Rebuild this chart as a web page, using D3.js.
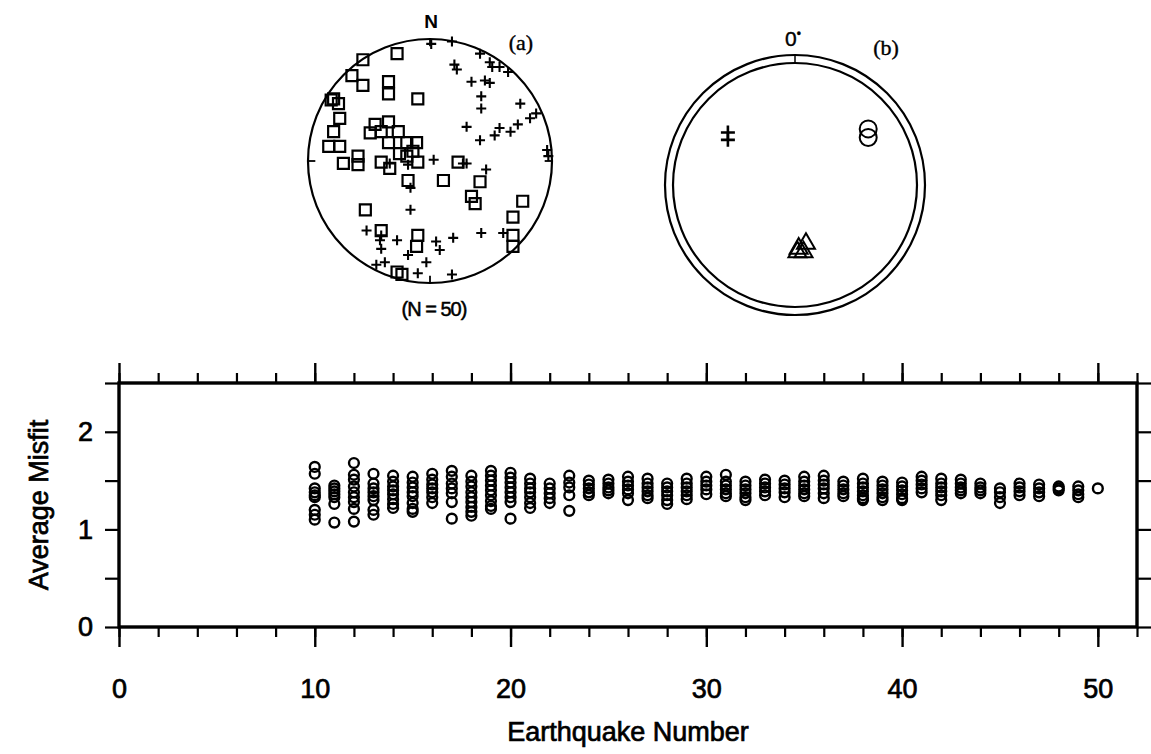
<!DOCTYPE html>
<html><head><meta charset="utf-8">
<script src="https://cdn.jsdelivr.net/npm/d3@7"></script>
<style>body{margin:0;background:#fff}svg{display:block}</style>
</head><body><svg id="c" width="1151" height="754"></svg>
<script>
// ---------- DATA ----------
const eqNumbers = d3.range(10, 51);
const misfit = [
  [1.64,1.57,1.42,1.38,1.35,1.33,1.20,1.15,1.10],
  [1.45,1.42,1.39,1.36,1.33,1.26,1.07],
  [1.68,1.56,1.51,1.44,1.38,1.33,1.28,1.21,1.08],
  [1.57,1.47,1.42,1.38,1.34,1.30,1.20,1.15],
  [1.55,1.49,1.44,1.40,1.36,1.31,1.26,1.22],
  [1.54,1.48,1.43,1.38,1.34,1.27,1.21,1.18],
  [1.57,1.51,1.46,1.42,1.38,1.33,1.27],
  [1.60,1.54,1.47,1.42,1.37,1.28,1.11],
  [1.55,1.49,1.44,1.38,1.33,1.28,1.23,1.18,1.14],
  [1.60,1.55,1.50,1.45,1.40,1.35,1.29,1.24,1.21],
  [1.58,1.53,1.48,1.43,1.38,1.33,1.28,1.11],
  [1.52,1.47,1.42,1.38,1.33,1.27,1.22],
  [1.47,1.42,1.37,1.32,1.27],
  [1.55,1.48,1.43,1.35,1.19],
  [1.50,1.46,1.42,1.38,1.35],
  [1.51,1.47,1.43,1.40,1.37],
  [1.54,1.49,1.45,1.41,1.37,1.30],
  [1.52,1.47,1.43,1.39,1.35,1.32],
  [1.47,1.43,1.39,1.35,1.30,1.26],
  [1.52,1.47,1.43,1.39,1.35,1.31],
  [1.54,1.49,1.45,1.41,1.36],
  [1.56,1.49,1.45,1.41,1.37,1.34],
  [1.49,1.45,1.41,1.37,1.33,1.30],
  [1.51,1.47,1.43,1.39,1.35],
  [1.50,1.46,1.42,1.38,1.33],
  [1.54,1.49,1.45,1.41,1.37,1.34],
  [1.55,1.50,1.46,1.42,1.37,1.32],
  [1.49,1.45,1.41,1.37,1.34],
  [1.52,1.47,1.43,1.39,1.35,1.32,1.30],
  [1.49,1.45,1.41,1.37,1.33,1.30],
  [1.48,1.44,1.40,1.36,1.32,1.30],
  [1.54,1.50,1.46,1.42,1.38],
  [1.52,1.47,1.43,1.39,1.35,1.30],
  [1.51,1.47,1.43,1.40,1.37],
  [1.47,1.43,1.40,1.37],
  [1.42,1.38,1.33,1.27],
  [1.47,1.43,1.39,1.35],
  [1.46,1.42,1.38,1.34],
  [1.44,1.42,1.40],
  [1.44,1.40,1.36,1.33],
  [1.42]
];
const xMajorTicks = [0, 10, 20, 30, 40, 50];
const xMinorTicks = d3.range(0, 53, 2);
const yTicks = [0, 0.5, 1, 1.5, 2, 2.5];
const yLabelTicks = [0, 1, 2];
const xTitle = "Earthquake Number";
const yTitle = "Average Misfit";

// Panel (a): projected positions (east, north) on unit net
const squaresA = [
  [-0.27,0.88],[-0.55,0.83],[-0.64,0.70],[-0.55,0.62],[-0.34,0.65],[-0.34,0.55],
  [-0.10,0.51],[-0.81,0.50],[-0.75,0.47],[-0.79,0.51],[-0.74,0.35],[-0.79,0.24],
  [-0.83,0.12],[-0.74,0.12],[-0.45,0.30],[-0.34,0.32],[-0.49,0.23],[-0.40,0.24],
  [-0.26,0.24],[-0.34,0.15],[-0.19,0.15],[-0.11,0.15],[-0.71,-0.02],[-0.59,0.04],
  [-0.59,-0.03],[-0.40,-0.01],[-0.33,-0.06],[-0.19,0.04],[-0.10,-0.01],[-0.25,0.06],
  [-0.14,0.08],[-0.18,-0.16],[0.11,-0.16],[0.23,-0.01],[0.41,-0.17],[0.34,-0.29],
  [0.37,-0.35],[-0.53,-0.40],[0.76,-0.33],[0.68,-0.46],[0.68,-0.61],[0.68,-0.70],
  [-0.40,-0.57],[-0.10,-0.61],[-0.11,-0.70],[-0.27,-0.91],[-0.23,-0.93]
];
const plusesA = [
  [0.01,0.96],[0.18,0.98],[0.41,0.88],[0.49,0.81],[0.51,0.77],[0.57,0.77],[0.64,0.73],
  [0.20,0.79],[0.22,0.75],[0.34,0.65],[0.45,0.66],[0.49,0.64],[0.42,0.53],[0.42,0.43],
  [0.74,0.47],[0.87,0.39],[0.82,0.35],[0.72,0.30],[0.66,0.24],[0.57,0.27],[0.53,0.21],
  [0.30,0.28],[0.41,0.17],[0.96,0.09],[0.97,0.04],[0.03,0.01],[0.30,-0.02],[0.27,-0.02],
  [0.46,-0.07],[-0.16,-0.22],[-0.16,-0.40],[-0.52,-0.57],[-0.41,-0.65],[-0.27,-0.65],
  [-0.40,-0.72],[-0.40,-0.61],[0.05,-0.66],[0.08,-0.73],[0.19,-0.63],[0.42,-0.59],
  [0.60,-0.59],[-0.18,-0.77],[-0.03,-0.83],[-0.37,-0.83],[-0.44,-0.85],[-0.10,-0.92],
  [0.18,-0.93],[-0.33,-0.02],[-0.18,-0.03]
];
// Panel (b)
const plusesB = [[-0.55,0.43],[-0.55,0.37]];
const circlesB = [[0.60,0.46],[0.60,0.39]];
const trianglesB = [[0.09,-0.48],[0.03,-0.52],[0.07,-0.55],[0.02,-0.55]];

// ---------- DRAW ----------
const svg = d3.select("#c");
const font = "'Liberation Sans', Arial, Helvetica, sans-serif";
const serif = "'Liberation Serif', 'Times New Roman', serif";
const heavy = sel => sel.attr("fill", "#000").attr("stroke", "#000").attr("stroke-width", 0.7);

// Bottom plot
const L = 119, R = 1137, T = 383, B = 627;
const x = d3.scaleLinear().domain([0, 52]).range([L, R]);
const y = d3.scaleLinear().domain([0, 2.5]).range([B, T]);

function styleAxis(g, sw) {
  g.select(".domain").remove();
  g.selectAll(".tick line").attr("stroke", "#000").attr("stroke-width", sw);
}
svg.append("g").attr("transform", `translate(0,${B})`)
  .call(d3.axisBottom(x).tickValues(xMinorTicks).tickSize(10).tickFormat(""))
  .call(g => styleAxis(g, 2.2));
svg.append("g").attr("transform", `translate(0,${B})`)
  .call(d3.axisBottom(x).tickValues(xMajorTicks).tickSize(20).tickPadding(32).tickFormat(d3.format("d")))
  .call(g => { styleAxis(g, 2.4); g.selectAll("text").attr("font-family", font).attr("font-size", 27).call(heavy); });
svg.append("g").attr("transform", `translate(0,${T})`)
  .call(d3.axisTop(x).tickValues(xMinorTicks).tickSize(10).tickFormat(""))
  .call(g => styleAxis(g, 2.2));
svg.append("g").attr("transform", `translate(0,${T})`)
  .call(d3.axisTop(x).tickValues(xMajorTicks).tickSize(20).tickFormat(""))
  .call(g => styleAxis(g, 2.4));
svg.append("g").attr("transform", `translate(${L},0)`)
  .call(d3.axisLeft(y).tickValues(yTicks).tickSize(14).tickPadding(12)
    .tickFormat(d => yLabelTicks.includes(d) ? d3.format("d")(d) : ""))
  .call(g => { styleAxis(g, 2.2); g.selectAll("text").attr("font-family", font).attr("font-size", 27).call(heavy); });
svg.append("g").attr("transform", `translate(${R},0)`)
  .call(d3.axisRight(y).tickValues(yTicks).tickSize(14).tickFormat(""))
  .call(g => styleAxis(g, 2.2));

svg.append("rect").attr("x", L).attr("y", T).attr("width", R - L).attr("height", B - T)
  .attr("fill", "none").attr("stroke", "#000").attr("stroke-width", 3.4);

const pts = eqNumbers.flatMap((n, i) => misfit[i].map(v => ({n, v})));
svg.append("g").selectAll("circle").data(pts).join("circle")
  .attr("cx", d => x(d.n)).attr("cy", d => y(d.v)).attr("r", 4.9)
  .attr("fill", "none").attr("stroke", "#000").attr("stroke-width", 2.4);

svg.append("text").attr("x", (L + R) / 2).attr("y", 741).attr("text-anchor", "middle")
  .attr("font-family", font).attr("font-size", 27).call(heavy).text(xTitle);
svg.append("text").attr("transform", `translate(48,${(T + B) / 2}) rotate(-90)`)
  .attr("text-anchor", "middle").attr("font-family", font).attr("font-size", 27).call(heavy).text(yTitle);

// Panel (a)
const ca = {x: 430, y: 161, r: 122};
const xa = d3.scaleLinear().domain([-1, 1]).range([ca.x - ca.r, ca.x + ca.r]);
const ya = d3.scaleLinear().domain([-1, 1]).range([ca.y + ca.r, ca.y - ca.r]);
const ga = svg.append("g");
ga.append("circle").attr("cx", xa(0)).attr("cy", ya(0)).attr("r", ca.r)
  .attr("fill", "none").attr("stroke", "#000").attr("stroke-width", 2.2);
[[0,1],[1,0],[0,-1],[-1,0]].forEach(([e,n]) => {
  ga.append("line").attr("x1", xa(e)).attr("y1", ya(n)).attr("x2", xa(e*0.94)).attr("y2", ya(n*0.94))
    .attr("stroke", "#000").attr("stroke-width", 1.8);
});
ga.selectAll("path.sq").data(squaresA).join("path").attr("class", "sq")
  .attr("transform", d => `translate(${xa(d[0])},${ya(d[1])})`)
  .attr("d", d3.symbol(d3.symbolSquare, 121))
  .attr("fill", "none").attr("stroke", "#000").attr("stroke-width", 2.2);
const plusPath = s => `M${-s},0H${s}M0,${-s}V${s}`;
ga.selectAll("path.pl").data(plusesA).join("path").attr("class", "pl")
  .attr("transform", d => `translate(${xa(d[0])},${ya(d[1])})`)
  .attr("d", plusPath(5))
  .attr("fill", "none").attr("stroke", "#000").attr("stroke-width", 2.1);
ga.append("text").attr("x", xa(0) + 1).attr("y", 28).attr("text-anchor", "middle")
  .attr("font-family", font).attr("font-weight", "bold").attr("font-size", 19).text("N");
ga.append("text").attr("x", 521).attr("y", 50).attr("text-anchor", "middle")
  .attr("font-family", serif).attr("font-size", 22).call(heavy).attr("stroke-width", 0.4).text("(a)");
ga.append("text").attr("x", 434).attr("y", 316).attr("text-anchor", "middle")
  .attr("font-family", font).attr("font-size", 20).attr("letter-spacing", -1).call(heavy).attr("stroke-width", 0.5).text("(N = 50)");

// Panel (b)
const cb = {x: 795, y: 185, r: 122, ro: 130};
const xb = d3.scaleLinear().domain([-1, 1]).range([cb.x - cb.r, cb.x + cb.r]);
const yb = d3.scaleLinear().domain([-1, 1]).range([cb.y + cb.r, cb.y - cb.r]);
const gb = svg.append("g");
gb.append("circle").attr("cx", xb(0)).attr("cy", yb(0)).attr("r", cb.ro)
  .attr("fill", "none").attr("stroke", "#000").attr("stroke-width", 2.2);
gb.append("circle").attr("cx", xb(0)).attr("cy", yb(0)).attr("r", cb.r)
  .attr("fill", "none").attr("stroke", "#000").attr("stroke-width", 2.2);
gb.append("line").attr("x1", xb(0)).attr("x2", xb(0)).attr("y1", cb.y - cb.ro).attr("y2", cb.y - cb.r)
  .attr("stroke", "#000").attr("stroke-width", 1.5);
gb.selectAll("path.pl").data(plusesB).join("path").attr("class", "pl")
  .attr("transform", d => `translate(${xb(d[0])},${yb(d[1])})`)
  .attr("d", plusPath(7))
  .attr("fill", "none").attr("stroke", "#000").attr("stroke-width", 2.6);
gb.selectAll("circle.ci").data(circlesB).join("circle").attr("class", "ci")
  .attr("cx", d => xb(d[0])).attr("cy", d => yb(d[1])).attr("r", 8.5)
  .attr("fill", "none").attr("stroke", "#000").attr("stroke-width", 2);
gb.selectAll("path.tr").data(trianglesB).join("path").attr("class", "tr")
  .attr("transform", d => `translate(${xb(d[0])},${yb(d[1])})`)
  .attr("d", d3.symbol(d3.symbolTriangle, 140))
  .attr("fill", "none").attr("stroke", "#000").attr("stroke-width", 2);
const t0 = gb.append("text").attr("x", xb(0) - 2).attr("y", 46).attr("text-anchor", "middle")
  .attr("font-family", font).attr("font-size", 21).call(heavy).attr("stroke-width", 0.4);
t0.append("tspan").text("0");
t0.append("tspan").attr("font-size", 12).attr("dy", -8).text("•");
gb.append("text").attr("x", 886).attr("y", 55).attr("text-anchor", "middle")
  .attr("font-family", serif).attr("font-size", 22).call(heavy).attr("stroke-width", 0.4).text("(b)");
</script></body></html>
